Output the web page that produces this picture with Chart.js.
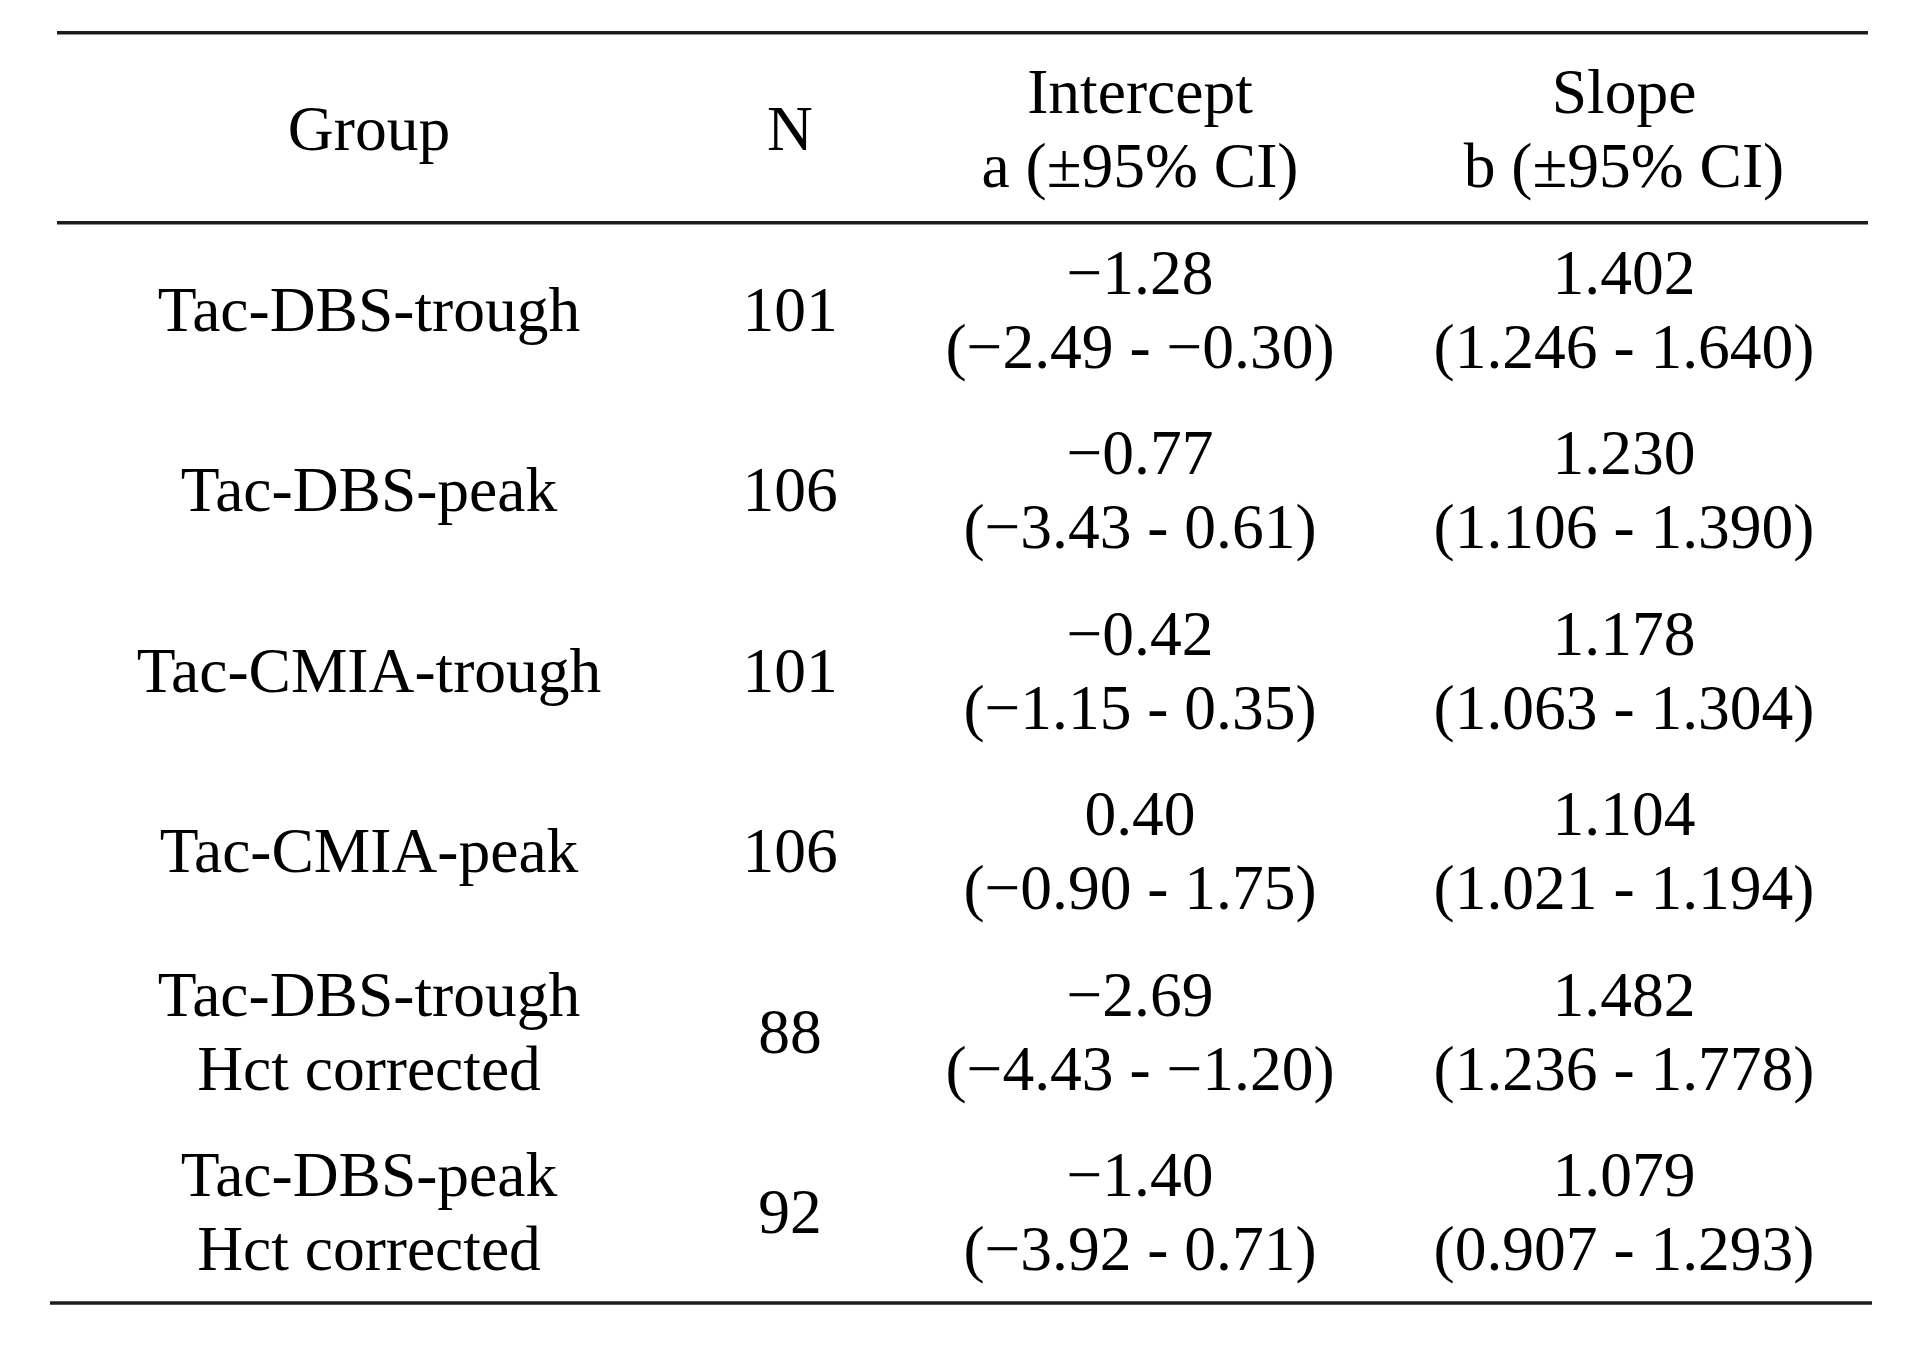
<!DOCTYPE html>
<html>
<head>
<meta charset="utf-8">
<script src="https://cdn.jsdelivr.net/npm/chart.js@4/dist/chart.umd.min.js"></script>
<style>
  html, body { margin: 0; padding: 0; background: #ffffff; }
  #wrap { width: 1919px; height: 1348px; position: relative; }
</style>
</head>
<body>
<div id="wrap"><canvas id="c"></canvas></div>
<script>
// ---- data ----
const headers = ["Group", "N", "Intercept\na (\u00B195% CI)", "Slope\nb (\u00B195% CI)"];
const groups = [
  "Tac-DBS-trough",
  "Tac-DBS-peak",
  "Tac-CMIA-trough",
  "Tac-CMIA-peak",
  "Tac-DBS-trough\nHct corrected",
  "Tac-DBS-peak\nHct corrected"
];
const nValues = [101, 106, 101, 106, 88, 92];
const intercepts = [-1.28, -0.77, -0.42, 0.40, -2.69, -1.40];
const interceptLow = [-2.49, -3.43, -1.15, -0.90, -4.43, -3.92];
const interceptHigh = [-0.30, 0.61, 0.35, 1.75, -1.20, 0.71];
const slopes = [1.402, 1.230, 1.178, 1.104, 1.482, 1.079];
const slopeLow = [1.246, 1.106, 1.063, 1.021, 1.236, 0.907];
const slopeHigh = [1.640, 1.390, 1.304, 1.194, 1.778, 1.293];

// ---- layout (positions in scale units, not data) ----
const colPos = [369, 790, 1140, 1624];        // x-scale units for column centres
const rulesY = [-0.533, 0.519, 6.504];        // y-scale units: top, header, bottom rules
const rulesX = [[57, 1868], [57, 1868], [50, 1872]];
const FONT = '63.5px "Liberation Serif", "Times New Roman", serif';
const LINE_GAP = 74;
const CAP_HALF = 21;

function fmt(v, d) {
  const s = Math.abs(v).toFixed(d);
  return (v < 0 ? "\u2212" : "") + s;
}

// build cell texts: row 0 = header, rows 1..6 = data
const cellTexts = [];
const cellPoints = [];
headers.forEach((h, c) => { cellPoints.push({ x: colPos[c], y: 0 }); cellTexts.push(h); });
groups.forEach((g, i) => {
  const r = i + 1;
  const row = [
    g,
    String(nValues[i]),
    fmt(intercepts[i], 2) + "\n(" + fmt(interceptLow[i], 2) + " - " + fmt(interceptHigh[i], 2) + ")",
    fmt(slopes[i], 3) + "\n(" + fmt(slopeLow[i], 3) + " - " + fmt(slopeHigh[i], 3) + ")"
  ];
  row.forEach((t, c) => { cellPoints.push({ x: colPos[c], y: r }); cellTexts.push(t); });
});

const ruleDatasets = rulesY.map((y, k) => ({
  type: 'line',
  data: [{ x: rulesX[k][0], y: y }, { x: rulesX[k][1], y: y }],
  borderColor: '#1c1c1c',
  borderWidth: 3.5,
  pointRadius: 0,
  fill: false,
  tension: 0
}));

const cellPlugin = {
  id: 'cellText',
  afterDatasetsDraw(chart) {
    const meta = chart.getDatasetMeta(0);
    const ctx = chart.ctx;
    ctx.save();
    ctx.font = FONT;
    ctx.fillStyle = '#000000';
    ctx.textAlign = 'center';
    ctx.textBaseline = 'alphabetic';
    meta.data.forEach((el, i) => {
      const lines = cellTexts[i].split("\n");
      const n = lines.length;
      lines.forEach((ln, j) => {
        const offset = (j - (n - 1) / 2) * LINE_GAP;
        ctx.fillText(ln, el.x, el.y + offset + CAP_HALF);
      });
    });
    ctx.restore();
  }
};

const H = 1348;
const unit = 180.5;
const yMin = -129 / unit;
const yMax = yMin + H / unit;

new Chart(document.getElementById('c'), {
  type: 'scatter',
  data: {
    datasets: [
      { data: cellPoints, pointRadius: 0, pointHoverRadius: 0, showLine: false }
    ].concat(ruleDatasets)
  },
  options: {
    responsive: true,
    maintainAspectRatio: false,
    animation: false,
    events: [],
    layout: { padding: 0 },
    plugins: { legend: { display: false }, tooltip: { enabled: false } },
    scales: {
      x: { type: 'linear', min: 0, max: 1919, display: false },
      y: { type: 'linear', min: yMin, max: yMax, reverse: true, display: false }
    }
  },
  plugins: [cellPlugin]
});
</script>
</body>
</html>
